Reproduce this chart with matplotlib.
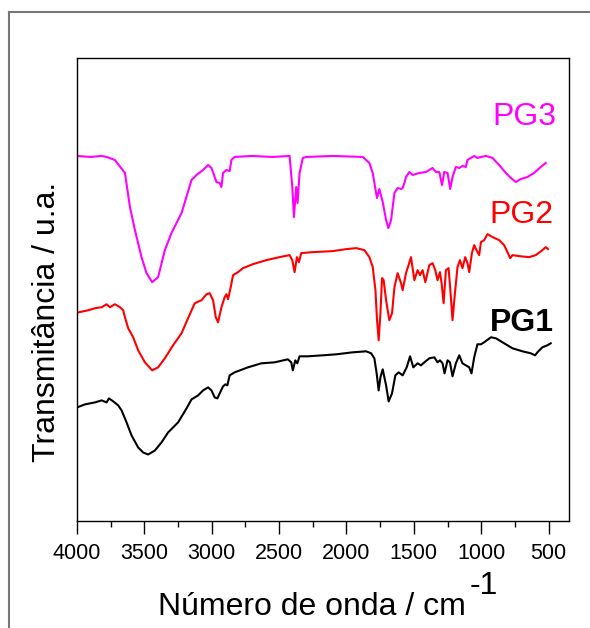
#!/usr/bin/env python3
import numpy as np
import matplotlib
matplotlib.use("Agg")
import matplotlib.pyplot as plt
from matplotlib.lines import Line2D

plt.rcParams['font.family'] = ['Liberation Sans', 'DejaVu Sans']

# FTIR spectra, wavenumber (cm-1) vs transmittance (a.u., curves offset)
pg3_wn = [4000, 3900, 3820, 3780, 3719, 3644, 3607, 3570, 3521, 3484, 3442, 3398,
          3348, 3299, 3224, 3150, 3113, 3064, 3027, 3002, 2965, 2941, 2928, 2916,
          2891, 2867, 2854, 2830, 2700, 2550, 2422, 2402, 2390, 2373, 2363, 2348,
          2324, 2299, 2100, 1879, 1830, 1805, 1780, 1773, 1756, 1731, 1706, 1689,
          1669, 1644, 1620, 1595, 1583, 1570, 1558, 1533, 1509, 1459, 1410, 1361,
          1336, 1311, 1291, 1274, 1250, 1230, 1213, 1188, 1163, 1139, 1114, 1102,
          1077, 1052, 1028, 1002, 965, 916, 867, 817, 780, 743, 706, 657, 608, 558, 521]
pg3_t = [36.4, 36.3, 36.4, 36.3, 36.0, 34.7, 31.3, 29.0, 26.3, 24.7, 23.8, 24.3,
         27.0, 28.7, 30.7, 34.0, 34.5, 35.0, 35.5, 35.2, 33.8, 33.7, 33.3, 34.7,
         35.0, 34.9, 36.0, 36.3, 36.4, 36.3, 36.4, 33.3, 30.3, 33.3, 31.7, 34.7,
         36.2, 36.3, 36.4, 36.3, 35.7, 34.7, 32.7, 32.2, 33.1, 31.8, 30.0, 29.2,
         30.0, 32.7, 33.2, 33.1, 33.2, 33.7, 34.3, 34.8, 34.5, 34.7, 34.8, 35.2,
         34.8, 34.8, 33.5, 34.8, 34.7, 33.1, 34.3, 35.3, 35.2, 35.4, 35.3, 36.0,
         36.2, 36.4, 36.2, 36.3, 36.4, 36.2, 35.5, 34.7, 34.2, 33.8, 34.1, 34.3,
         34.7, 35.3, 35.7]

pg2_wn = [3985, 3916, 3867, 3817, 3780, 3756, 3719, 3681, 3657, 3644, 3620, 3583,
          3546, 3496, 3442, 3398, 3348, 3287, 3224, 3176, 3126, 3076, 3039, 3015,
          2990, 2970, 2953, 2928, 2904, 2891, 2879, 2859, 2842, 2805, 2768, 2694,
          2595, 2496, 2422, 2402, 2385, 2368, 2353, 2336, 2250, 2102, 2002, 1928,
          1867, 1830, 1805, 1785, 1773, 1761, 1748, 1736, 1724, 1706, 1682, 1662,
          1644, 1620, 1595, 1583, 1558, 1521, 1496, 1472, 1454, 1435, 1415, 1385,
          1361, 1341, 1324, 1306, 1294, 1279, 1262, 1242, 1225, 1213, 1195, 1176,
          1158, 1139, 1119, 1102, 1089, 1069, 1052, 1035, 1015, 1002, 978, 953,
          916, 867, 830, 805, 785, 768, 719, 645, 595, 546, 521, 504]
pg2_t = [20.8, 21.0, 21.2, 21.3, 21.6, 21.3, 21.6, 21.3, 21.0, 20.3, 19.2, 18.3,
         17.0, 15.8, 15.0, 15.3, 16.2, 17.5, 18.7, 20.2, 21.7, 22.0, 22.6, 22.7,
         22.0, 20.3, 19.8, 21.3, 22.3, 22.6, 22.1, 23.3, 24.5, 24.8, 25.2, 25.6,
         26.0, 26.3, 26.5, 26.0, 24.8, 26.3, 25.8, 26.7, 26.8, 26.9, 27.1, 27.2,
         27.0, 26.3, 25.3, 23.0, 20.0, 18.0, 20.7, 24.2, 24.0, 22.0, 20.0, 20.7,
         23.3, 24.7, 23.7, 23.0, 24.7, 26.3, 24.0, 25.0, 24.5, 25.0, 23.8, 25.5,
         25.7, 25.0, 24.0, 24.8, 23.7, 21.7, 25.0, 25.2, 22.3, 20.0, 22.7, 25.3,
         26.0, 25.2, 26.3, 25.7, 24.8, 26.7, 27.5, 27.0, 26.5, 27.8, 28.0, 28.6,
         28.3, 28.0, 27.5, 26.8, 26.2, 26.5, 26.4, 26.3, 26.5, 27.0, 27.3, 27.1]

pg1_wn = [4000, 3941, 3867, 3817, 3780, 3763, 3731, 3694, 3669, 3632, 3595, 3546,
          3509, 3472, 3422, 3373, 3324, 3250, 3187, 3150, 3101, 3064, 3027, 3002,
          2978, 2958, 2941, 2916, 2899, 2884, 2867, 2830, 2731, 2632, 2533, 2435,
          2410, 2398, 2380, 2365, 2348, 2287, 2176, 2076, 1953, 1854, 1817, 1793,
          1776, 1761, 1748, 1731, 1706, 1687, 1662, 1637, 1613, 1583, 1553, 1528,
          1504, 1472, 1447, 1422, 1385, 1348, 1324, 1306, 1287, 1272, 1250, 1232,
          1213, 1188, 1163, 1139, 1114, 1089, 1072, 1052, 1028, 1002, 978, 928,
          891, 842, 768, 694, 632, 600, 583, 546, 509, 484]
pg1_t = [11.3, 11.6, 11.8, 12.0, 11.8, 12.2, 11.9, 11.5, 11.0, 9.8, 8.5, 7.3,
         6.8, 6.6, 7.0, 7.8, 8.8, 9.8, 11.2, 12.1, 12.5, 13.0, 13.3, 13.0,
         12.3, 12.2, 12.7, 13.4, 13.6, 13.5, 14.5, 14.8, 15.3, 15.7, 15.8, 16.1,
         15.8, 15.0, 16.0, 15.7, 16.4, 16.4, 16.5, 16.6, 16.8, 16.9, 16.7, 16.2,
         14.7, 13.0, 14.3, 15.1, 13.5, 11.9, 12.7, 14.5, 14.8, 14.5, 15.3, 16.4,
         15.3, 15.7, 15.5, 15.8, 16.2, 16.3, 15.8, 16.0, 15.7, 14.7, 16.0, 15.8,
         14.4, 15.7, 16.5, 15.7, 15.5, 15.3, 14.7, 16.3, 17.6, 17.6, 17.8, 18.3,
         18.2, 17.8, 17.2, 16.9, 16.7, 16.5, 16.8, 17.3, 17.5, 17.7]

series = [
    ("PG3", pg3_wn, pg3_t, "#ff00ff", "normal", 919, 40.3),
    ("PG2", pg2_wn, pg2_t, "#ff0000", "normal", 937, 30.5),
    ("PG1", pg1_wn, pg1_t, "black", "bold", 937, 19.7),
]

fig = plt.figure(figsize=(5.9, 6.28), dpi=100)
ax = fig.add_axes([0.1305, 0.171, 0.834, 0.737])

for name, wn, t, color, weight, lx, ly in series:
    ax.plot(wn, t, color=color, linewidth=1.5)
    ax.text(lx, ly, name, color=color, fontsize=23, fontweight=weight,
            ha='left', va='center')

ax.set_xlim(4000, 348)
ax.set_ylim(0, 46.2)
ax.set_xticks(np.arange(4000, 499, -500))
ax.set_xticks(np.arange(3750, 499, -500), minor=True)
ax.tick_params(axis='x', which='major', direction='out', length=9, width=1,
               labelsize=15.5, pad=7)
ax.tick_params(axis='x', which='minor', direction='out', length=4.5, width=1)
ax.set_yticks([])
for sp in ax.spines.values():
    sp.set_linewidth(1.0)

fig.text(158 / 590, 1 - 615 / 628, "Número de onda / cm", fontsize=23,
         ha='left', va='baseline')
fig.text(470 / 590, 1 - 594 / 628, "-1", fontsize=23, ha='left', va='baseline')
fig.text(47 / 590, 1 - 322 / 628, "Transmitância / u.a.", fontsize=23,
         rotation=90, ha='center', va='center')

# page frame
fig.add_artist(Line2D([9 / 590, 1], [1 - 12 / 628, 1 - 12 / 628],
                      color='#777777', linewidth=1.5))
fig.add_artist(Line2D([9 / 590, 9 / 590], [0, 1 - 12 / 628],
                      color='#777777', linewidth=1.5))

fig.savefig("out.png", dpi=100)
